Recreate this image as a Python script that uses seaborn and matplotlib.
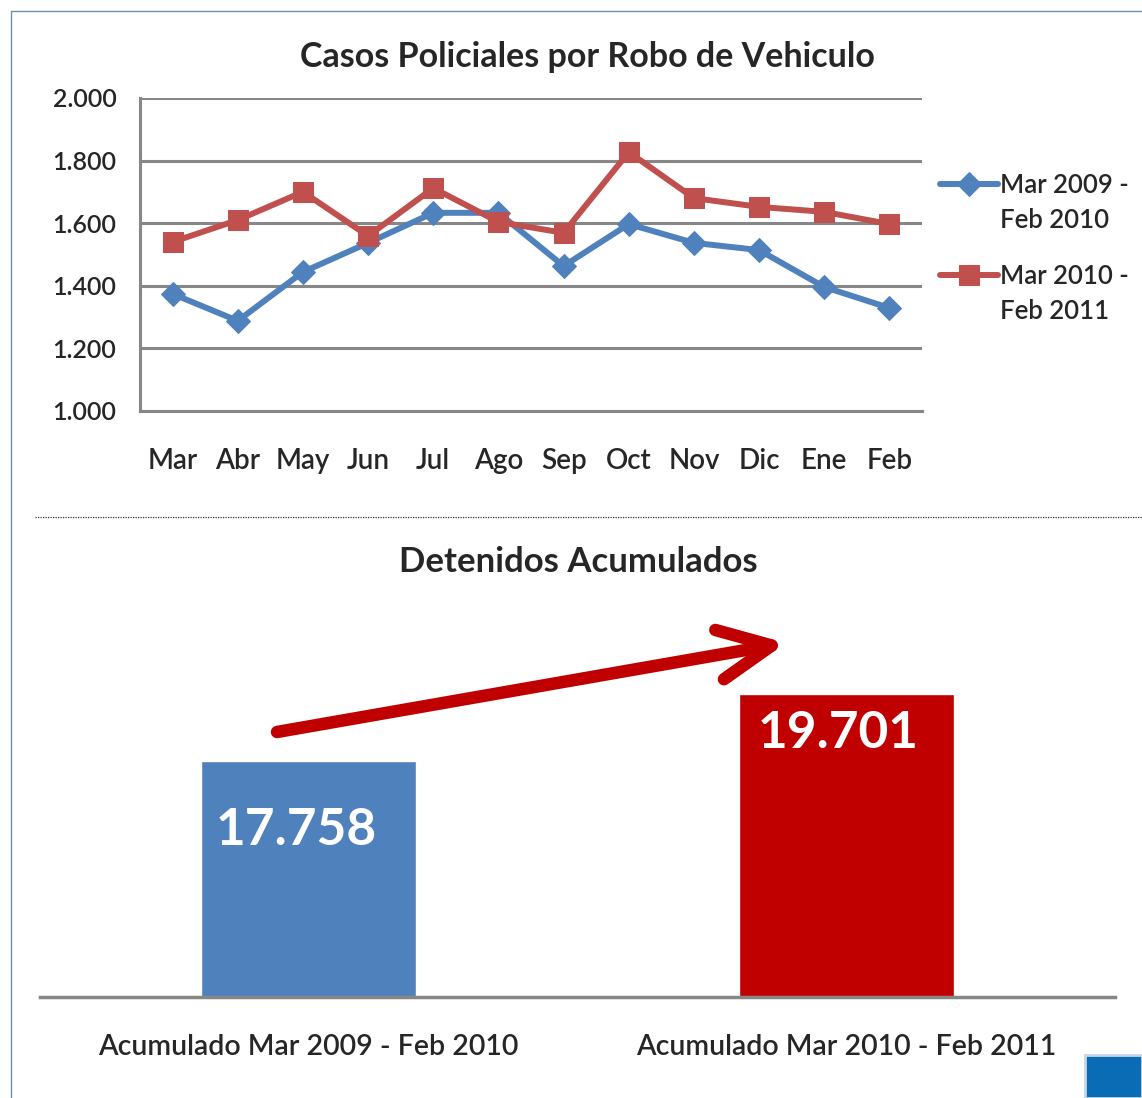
import matplotlib
matplotlib.use("Agg")
import matplotlib.pyplot as plt
import matplotlib.lines as mlines
import matplotlib.patches as mpatches
from matplotlib.ticker import FuncFormatter
import seaborn as sns
import pandas as pd

# data
meses = ['Mar', 'Abr', 'May', 'Jun', 'Jul', 'Ago', 'Sep', 'Oct', 'Nov', 'Dic', 'Ene', 'Feb']
casos_2009 = [1374, 1288, 1444, 1537, 1633, 1633, 1463, 1597, 1537, 1514, 1396, 1329]
casos_2010 = [1540, 1610, 1700, 1559, 1712, 1604, 1569, 1827, 1680, 1652, 1636, 1597]
serie_labels = [['Mar 2009 -', 'Feb 2010'], ['Mar 2010 -', 'Feb 2011']]

acum_labels = ['Acumulado Mar 2009 - Feb 2010', 'Acumulado Mar 2010 - Feb 2011']
acum_values = [17758, 19701]

sns.set_style("white")
plt.rcParams['font.family'] = ['Lato', 'DejaVu Sans']

BLUE = '#4F81BD'
RED = '#C0504D'
DARKRED = '#C00000'
GRID = '#878787'


def miles(v, pos=None):
    return f"{v:,.0f}".replace(",", ".")


fig = plt.figure(figsize=(11.42, 10.98), dpi=100)

# ---- top chart: line chart ----
ax1 = fig.add_axes([0.1226, 0.6257, 0.6848, 0.2851])
df = pd.DataFrame({'mes': meses, 'a': casos_2009, 'b': casos_2010})
sns.lineplot(data=df, x='mes', y='a', ax=ax1, color=BLUE, marker='D', markersize=12,
             linewidth=4.3, markeredgecolor=BLUE, sort=False)
sns.lineplot(data=df, x='mes', y='b', ax=ax1, color=RED, marker='s', markersize=14,
             linewidth=4.3, markeredgecolor=RED, sort=False)
ax1.set_xlim(-0.5, len(meses) - 0.5)
ax1.set_ylim(1000, 2000)
ax1.set_yticks([1000, 1200, 1400, 1600, 1800, 2000])
ax1.yaxis.set_major_formatter(FuncFormatter(miles))
ax1.grid(axis='y', color=GRID, linewidth=2.2)
ax1.set_axisbelow(True)
for s in ['top', 'right']:
    ax1.spines[s].set_visible(False)
for s in ['left', 'bottom']:
    ax1.spines[s].set_color(GRID)
    ax1.spines[s].set_linewidth(2.2)
ax1.tick_params(axis='y', length=0, pad=17, labelsize=18)
ax1.tick_params(axis='x', length=0, pad=27, labelsize=20)
for lab in ax1.get_xticklabels() + ax1.get_yticklabels():
    lab.set_fontweight('semibold')
ax1.set_xlabel('')
ax1.set_ylabel('')

# legend: one legend per series so the marker sits on the first text line
blank = mlines.Line2D([], [], color='none')
tops = [0.8424, 0.7596]
for line, labs, top in zip(ax1.lines[:2], serie_labels, tops):
    leg = fig.legend([line, blank], labs, loc='upper left', bbox_to_anchor=(0.8231, top),
                     frameon=False, fontsize=18.5, handlelength=2.25, handletextpad=0.08,
                     labelspacing=0.38, borderpad=0, borderaxespad=0)
    for t in leg.get_texts():
        t.set_fontweight('semibold')

fig.text(0.514, 0.948, 'Casos Policiales por Robo de Vehiculo', ha='center', va='center',
         fontsize=24.5, fontweight='bold')

# dotted separator
fig.add_artist(mlines.Line2D([35 / 1142, 1.0], [1 - 517 / 1098] * 2, color='#333333',
                             linewidth=0.9, linestyle=(0, (1, 1))))

# ---- bottom chart: bars ----
ax2 = fig.add_axes([0.035, 0.0920, 0.9413, 0.3707])
bdf = pd.DataFrame({'label': acum_labels, 'value': acum_values})
sns.barplot(data=bdf, x='label', y='value', hue='label', palette=[BLUE, DARKRED],
            width=0.40, ax=ax2, legend=False, saturation=1)
ax2.set_xlim(-0.5, 1.5)
ax2.set_ylim(11000, 22672)
ax2.set_yticks([])
for s in ['top', 'right', 'left']:
    ax2.spines[s].set_visible(False)
ax2.spines['bottom'].set_color(GRID)
ax2.spines['bottom'].set_linewidth(2.5)
ax2.tick_params(axis='x', length=0, pad=27, labelsize=20.5)
for lab in ax2.get_xticklabels():
    lab.set_fontweight('semibold')
ax2.set_xlabel('')
ax2.set_ylabel('')

offsets = [(-9, -33), (-6, -12)]
for i, v in enumerate(acum_values):
    ax2.annotate(miles(v), xy=(i, v), xytext=offsets[i], textcoords='offset points',
                 ha='center', va='top', color='white', fontsize=37, fontweight='bold')

fig.text(0.506, 0.488, 'Detenidos Acumulados', ha='center', va='center',
         fontsize=25, fontweight='bold')

# arrow showing the increase
fig.add_artist(mpatches.FancyArrowPatch(
    (277 / 1142, 1 - 732 / 1098), (786 / 1142, 1 - 643 / 1098),
    transform=fig.transFigure, arrowstyle='->,head_length=3.8,head_width=1.8',
    mutation_scale=10, color=DARKRED, linewidth=9, capstyle='round',
    joinstyle='round', shrinkA=0, shrinkB=0))

# frame lines on the left and top edges
fig.add_artist(mlines.Line2D([11 / 1142, 11 / 1142], [0, 1 - 11 / 1098], color='#6f8fb5', linewidth=1))
fig.add_artist(mlines.Line2D([11 / 1142, 1], [1 - 11 / 1098] * 2, color='#6f8fb5', linewidth=1))

# small blue block in the corner
fig.add_artist(mpatches.Rectangle((1085 / 1142, 0), 57 / 1142, 43 / 1098,
                                  transform=fig.transFigure, facecolor='#0A6CB4',
                                  edgecolor='#c9d6e6', linewidth=2))

fig.savefig('out.png', dpi=100)
